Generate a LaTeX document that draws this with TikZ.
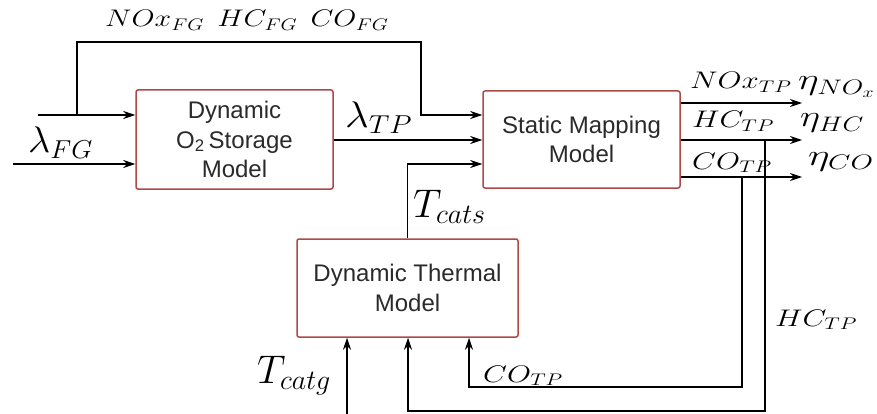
\RequirePackage{fix-cm}
\documentclass[tikz,border=0pt]{standalone}
\usepackage{fontspec}
\usepackage{graphicx}
\setsansfont{Liberation Sans}
\usetikzlibrary{arrows.meta,calc}
\definecolor{boxred}{HTML}{B04848}
\definecolor{txt}{HTML}{2A2A2A}
\newcommand\xs[2]{\scalebox{#1}[1]{#2}}
\tikzset{
  block/.style={draw=boxred,line width=1.5pt,rounded corners=2pt,fill=white,
    font=\sffamily\fontsize{24}{29.5}\selectfont,text=txt,align=center,inner sep=0pt},
  arr/.style={-{Stealth[length=12pt,width=8pt]},line width=1.2pt},
  lbl/.style={inner sep=0pt,anchor=base west},
  small/.style={font=\fontsize{24}{26}\selectfont},
  lam/.style={font=\fontsize{37}{40}\selectfont},
  tee/.style={font=\fontsize{40}{44}\selectfont},
  eta/.style={font=\fontsize{30}{33}\selectfont}
}
\begin{document}
\begin{tikzpicture}[x=1pt,y=-1pt]
\useasboundingbox[fill=white] (0,0) rectangle (877,414);
% blocks
\node[block,minimum width=197pt,minimum height=99pt] (o2) at (234.5,139.5) {Dynamic\\O\textsubscript{2}\,Storage\\Model};
\node[block,minimum width=197pt,minimum height=97pt] (sm) at (581.5,139.5) {Static Mapping\\Model};
\node[block,minimum width=221pt,minimum height=98pt] (th) at (407.5,288) {Dynamic Thermal\\Model};
% coordinates
\coordinate (in1) at (38,115);
\coordinate (in2) at (13,164);
\coordinate (br) at (77,115);
\coordinate (bt) at (421,42);
\coordinate (o1) at (802,103);
\coordinate (o2e) at (802,140);
\coordinate (o3) at (802,177);
\coordinate (cobr) at (742,177);
\coordinate (cob) at (469,387);
\coordinate (hcbr) at (765,140);
\coordinate (hcb) at (408,411);
\coordinate (tg) at (347,414);
% input arrows
\draw[arr] (in1) -- (in1 -| o2.west);
\draw[arr] (in2) -- (in2 -| o2.west);
\draw[arr] (br) |- (bt) |- (sm.west |- in1);
\draw[arr] (o2.east |- 0,140) -- (sm.west |- 0,140);
\draw[arr] (th.north) |- (sm.west |- 0,164);
% outputs
\draw[arr] (sm.east |- o1) -- (o1);
\draw[arr] (sm.east |- o2e) -- (o2e);
\draw[arr] (sm.east |- o3) -- (o3);
% feedback loops
\draw[arr] (cobr) |- (cob) -- (cob |- th.south);
\draw[arr] (hcbr) |- (hcb) -- (hcb |- th.south);
\draw[arr] (tg) -- (tg |- th.south);
% labels
\node[lbl,font=\fontsize{24}{26}\selectfont] (ltop) at (105,27) {\xs{1.24}{$NOx_{FG}\;\, HC_{FG}\;\, CO_{FG}$}};
\node[lbl,lam] (llfg) at (28,153) {\xs{1.05}{$\lambda_{FG}$}};
\node[lbl,lam] (lltp) at (345,128) {\xs{1.12}{$\lambda_{TP}$}};
\node[lbl,small] (lnox) at (690,89) {\xs{1.29}{$NOx_{TP}$}};
\node[lbl,small] (lhc) at (692,128) {\xs{1.29}{$HC_{TP}$}};
\node[lbl,small] (lco) at (692,169) {\xs{1.29}{$CO_{TP}$}};
\node[lbl,eta] (enox) at (798,90) {\xs{1.32}{$\eta_{NO_x}$}};
\node[lbl,eta] (ehc) at (800,127) {\xs{1.28}{$\eta_{HC}$}};
\node[lbl,eta] (eco) at (808,165) {\xs{1.38}{$\eta_{CO}$}};
\node[lbl,tee] (ltcs) at (413,217) {$T_{cats}$};
\node[lbl,tee] (ltcg) at (257,383) {$T_{catg}$};
\node[lbl,small] (lco2) at (483,382) {\xs{1.29}{$CO_{TP}$}};
\node[lbl,small] (lhc2) at (775,326) {\xs{1.29}{$HC_{TP}$}};
\end{tikzpicture}
\end{document}
